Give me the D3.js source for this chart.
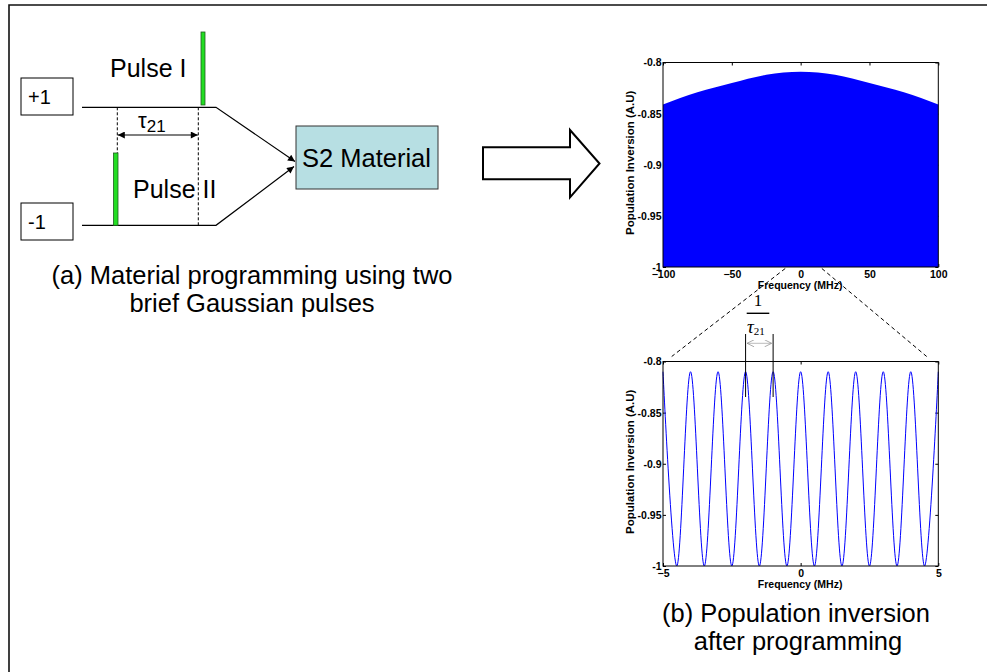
<!DOCTYPE html>
<html>
<head>
<meta charset="utf-8">
<script src="https://cdn.jsdelivr.net/npm/d3@7"></script>
<style>
  html, body { margin: 0; padding: 0; background: #fff; }
  svg { display: block; }
  .sans { font-family: "Liberation Sans", Arial, sans-serif; }
  .serif { font-family: "Liberation Serif", "Times New Roman", serif; }
</style>
</head>
<body>
<svg id="fig" width="987" height="672"></svg>
<script>
// ---- data ---------------------------------------------------------------
// Wide-band view: upper envelope of the (dense) population-inversion fringes
const envelopeFreq = [-100, -75, -50, -25, 0, 25, 50, 75, 100];          // MHz
const envelopePeak = [-0.841, -0.829, -0.820, -0.812, -0.809, -0.812, -0.820, -0.829, -0.841];
const wideFreqTicks = [-100, -50, 0, 50, 100];

// Zoomed view: fringe maxima and minima, 1 MHz period
const fringeFreq = [-5, -4.5, -4, -3.5, -3, -2.5, -2, -1.5, -1, -0.5, 0,
                    0.5, 1, 1.5, 2, 2.5, 3, 3.5, 4, 4.5, 5];
const fringeValue = [-0.81, -1, -0.81, -1, -0.81, -1, -0.81, -1, -0.81, -1, -0.81,
                     -1, -0.81, -1, -0.81, -1, -0.81, -1, -0.81, -1, -0.81];
const zoomFreqTicks = [-5, 0, 5];

const popTicks = [-1, -0.95, -0.9, -0.85, -0.8];
const popTickLabels = ["-1", "-0.95", "-0.9", "-0.85", "-0.8"];
const periodMarks = [-2, -1];   // two neighbouring maxima, spaced 1/tau21

const svg = d3.select("#fig");
const BLUE = "#0000ff";

// ---- outer frame ----------------------------------------------------------
svg.append("path").attr("d", "M9,672 V5 H987")
  .attr("fill", "none").attr("stroke", "#111").attr("stroke-width", 1.6);

// ---- markers --------------------------------------------------------------
const defs = svg.append("defs");
defs.append("marker").attr("id", "solidHead")
  .attr("viewBox", "0 0 10 10").attr("refX", 10).attr("refY", 5)
  .attr("markerWidth", 9).attr("markerHeight", 7).attr("markerUnits", "userSpaceOnUse")
  .attr("orient", "auto-start-reverse")
  .append("path").attr("d", "M0,0 L10,5 L0,10 Z").attr("fill", "#000");
defs.append("marker").attr("id", "openHead")
  .attr("viewBox", "0 0 10 10").attr("refX", 10).attr("refY", 5)
  .attr("markerWidth", 8).attr("markerHeight", 7).attr("markerUnits", "userSpaceOnUse")
  .attr("orient", "auto-start-reverse")
  .append("path").attr("d", "M0,0 L10,5 L0,10").attr("fill", "none")
  .attr("stroke", "#888").attr("stroke-width", 1);

// ---- (a) programming diagram --------------------------------------------
const dg = svg.append("g").attr("class", "sans");

// input level boxes
[{y: 78, t: "+1", b: 104}, {y: 203, t: "-1", b: 229}].forEach(d => {
  dg.append("rect").attr("x", 21).attr("y", d.y).attr("width", 52).attr("height", 37)
    .attr("fill", "#fff").attr("stroke", "#000").attr("stroke-width", 1);
  dg.append("text").attr("x", 28).attr("y", d.b).attr("font-size", 20).text(d.t);
});

// rails converging on the material
dg.append("path").attr("d", "M82,107.3 H216 L295,161.5")
  .attr("fill", "none").attr("stroke", "#000").attr("stroke-width", 1.2)
  .attr("marker-end", "url(#solidHead)");
dg.append("path").attr("d", "M82,225.3 H216 L294,166.5")
  .attr("fill", "none").attr("stroke", "#000").attr("stroke-width", 1.2)
  .attr("marker-end", "url(#solidHead)");

// dashed time markers and delay arrow
[117.3, 198.3].forEach(x => {
  dg.append("line").attr("x1", x).attr("x2", x).attr("y1", 107.3).attr("y2", 225.3)
    .attr("stroke", "#000").attr("stroke-width", 1).attr("stroke-dasharray", "3,2");
});
dg.append("line").attr("x1", 117.8).attr("x2", 197.8).attr("y1", 135).attr("y2", 135)
  .attr("stroke", "#000").attr("stroke-width", 1.2)
  .attr("marker-start", "url(#solidHead)").attr("marker-end", "url(#solidHead)");
const tau = dg.append("text").attr("x", 138).attr("y", 128).attr("font-size", 22);
tau.append("tspan").text("τ");
tau.append("tspan").attr("font-size", 17).attr("dy", 4).text("21");

// pulses
dg.append("rect").attr("x", 201).attr("y", 32).attr("width", 4).attr("height", 73)
  .attr("fill", "#22dd22").attr("stroke", "#1f5f1f").attr("stroke-width", 0.8);
dg.append("rect").attr("x", 113.5).attr("y", 153).attr("width", 4.5).attr("height", 72.3)
  .attr("fill", "#22dd22").attr("stroke", "#1f5f1f").attr("stroke-width", 0.8);
dg.append("text").attr("x", 110).attr("y", 77).attr("font-size", 25).text("Pulse I");
dg.append("text").attr("x", 133).attr("y", 198).attr("font-size", 25).text("Pulse II");

// material block
dg.append("rect").attr("x", 296).attr("y", 126).attr("width", 142).attr("height", 63)
  .attr("fill", "#b7dfe3").attr("stroke", "#333").attr("stroke-width", 1);
dg.append("text").attr("x", 302).attr("y", 167).attr("font-size", 25.5).text("S2 Material");

// caption (a)
dg.append("text").attr("x", 252).attr("y", 284).attr("text-anchor", "middle")
  .attr("font-size", 25.5).text("(a) Material programming using two");
dg.append("text").attr("x", 252).attr("y", 312).attr("text-anchor", "middle")
  .attr("font-size", 25.5).text("brief Gaussian pulses");

// big hollow arrow
svg.append("path")
  .attr("d", "M483,147.3 H570 V130 L599.5,163.5 L570,197.3 V179.3 H483 Z")
  .attr("fill", "#fff").attr("stroke", "#000").attr("stroke-width", 2);

// ---- (b) population inversion plots -------------------------------------
const plotLeft = 663, plotRight = 938.3, plotH = 204.5;

function makeAxes(top, xDomain, xTicks) {
  const x = d3.scaleLinear().domain(xDomain).range([plotLeft, plotRight]);
  const y = d3.scaleLinear().domain([-1, -0.8]).range([top + plotH, top]);
  const g = svg.append("g").attr("class", "sans");
  const tickStyle = sel => {
    sel.select(".domain").remove();
    sel.selectAll(".tick line").attr("stroke", "#000").attr("stroke-width", 1);
    sel.selectAll("text").attr("font-size", 10.5).attr("font-weight", "bold")
      .attr("fill", "#000").attr("font-family", "Liberation Sans, Arial, sans-serif");
  };
  // inside ticks on all four sides
  g.append("g").attr("transform", `translate(0,${top + plotH})`)
    .call(d3.axisBottom(x).tickValues(xTicks).tickSize(-3).tickPadding(4)
      .tickFormat(d3.format("d"))).call(tickStyle);
  g.append("g").attr("transform", `translate(0,${top})`)
    .call(d3.axisTop(x).tickValues(xTicks).tickSize(-3).tickFormat("")).call(tickStyle);
  g.append("g").attr("transform", `translate(${plotLeft},0)`)
    .call(d3.axisLeft(y).tickValues(popTicks).tickSize(-3).tickPadding(1.5)
      .tickFormat((d, i) => popTickLabels[i])).call(tickStyle);
  g.append("g").attr("transform", `translate(${plotRight},0)`)
    .call(d3.axisRight(y).tickValues(popTicks).tickSize(-3).tickFormat("")).call(tickStyle);
  // axis titles
  g.append("text").attr("x", (plotLeft + plotRight) / 2 - 0.5).attr("y", top + plotH + 21.5)
    .attr("text-anchor", "middle").attr("font-size", 10.5).attr("font-weight", "bold")
    .text("Frequency (MHz)");
  g.append("text")
    .attr("transform", `translate(634,${top + plotH / 2 - 2}) rotate(-90)`)
    .attr("text-anchor", "middle").attr("font-size", 11.5).attr("font-weight", "bold")
    .text("Population Inversion (A.U)");
  return {x, y, g, top};
}

function frame(ax) {
  svg.append("rect").attr("x", plotLeft).attr("y", ax.top)
    .attr("width", plotRight - plotLeft).attr("height", plotH)
    .attr("fill", "none").attr("stroke", "#000").attr("stroke-width", 1);
}

// wide-band plot: fringes too dense to resolve, drawn as a filled band
const wide = makeAxes(62.5, [-100, 100], wideFreqTicks);
const envelope = envelopeFreq.map((f, i) => ({f, v: envelopePeak[i]}));
svg.append("path").datum(envelope)
  .attr("fill", BLUE)
  .attr("d", d3.area().curve(d3.curveNatural)
    .x(d => wide.x(d.f)).y0(wide.y(-1)).y1(d => wide.y(d.v)));
frame(wide);

// zoomed plot: individual fringes
const zoom = makeAxes(361.5, [-5, 5], zoomFreqTicks);
const fringe = fringeFreq.map((f, i) => ({f, v: fringeValue[i]}));
svg.append("path").datum(fringe)
  .attr("fill", "none").attr("stroke", BLUE).attr("stroke-width", 1)
  .attr("d", d3.line().curve(d3.curveCatmullRom.alpha(0))
    .x(d => zoom.x(d.f)).y(d => zoom.y(d.v)));
frame(zoom);

// dashed zoom guides from the wide plot to the zoomed plot
const guideFrom = [-11.2, 15.4];   // MHz on the wide axis
const guideTo = [671.7, 926.7];
guideFrom.forEach((f, i) => {
  svg.append("line").attr("x1", wide.x(f)).attr("y1", 268.5)
    .attr("x2", guideTo[i]).attr("y2", 356.5)
    .attr("stroke", "#000").attr("stroke-width", 1).attr("stroke-dasharray", "4,3");
});

// period annotation 1/tau21 between two neighbouring maxima
periodMarks.forEach(f => {
  svg.append("line").attr("x1", zoom.x(f)).attr("x2", zoom.x(f))
    .attr("y1", 334).attr("y2", 397).attr("stroke", "#000").attr("stroke-width", 1);
});
svg.append("line").attr("x1", zoom.x(periodMarks[0]) + 1.5).attr("x2", zoom.x(periodMarks[1]) - 1.5)
  .attr("y1", 343.3).attr("y2", 343.3).attr("stroke", "#aaa").attr("stroke-width", 0.8)
  .attr("marker-start", "url(#openHead)").attr("marker-end", "url(#openHead)");
const ann = svg.append("g").attr("class", "serif");
ann.append("text").attr("x", 758).attr("y", 306).attr("text-anchor", "middle")
  .attr("font-size", 17).text("1");
ann.append("line").attr("x1", 746.7).attr("x2", 769.3).attr("y1", 313.3).attr("y2", 313.3)
  .attr("stroke", "#000").attr("stroke-width", 1.4);
const tt = ann.append("text").attr("x", 747).attr("y", 333).attr("font-size", 19)
  .attr("font-style", "italic");
tt.append("tspan").text("τ");
tt.append("tspan").attr("font-size", 11).attr("font-style", "normal").attr("dy", 2).text("21");

// caption (b)
const cb = svg.append("g").attr("class", "sans");
cb.append("text").attr("x", 796).attr("y", 622).attr("text-anchor", "middle")
  .attr("font-size", 25.5).text("(b) Population inversion");
cb.append("text").attr("x", 798).attr("y", 650).attr("text-anchor", "middle")
  .attr("font-size", 25.5).text("after programming");
</script>
</body>
</html>
